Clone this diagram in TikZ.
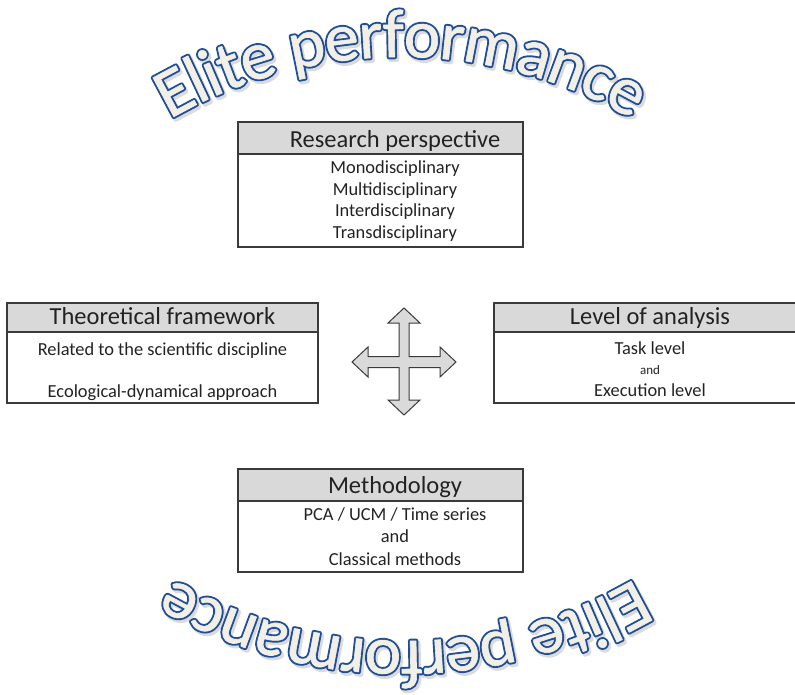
\documentclass[tikz,border=0pt]{standalone}
\usepackage{fontspec}
\setmainfont{Carlito}
\newfontfamily\artfont{Carlito}
% outlined letters (PDF text rendering mode 2): soft grey shadow, a wide blue layer, then a cream layer on top
\newcommand\artshadow{\special{pdf:literal direct 2 Tr 5 w 1 j 0.86 0.86 0.86 RG 0.86 0.86 0.86 rg}}
\newcommand\artoutline{\special{pdf:literal direct 2 Tr 4.4 w 1 j 0.122 0.306 0.588 RG 0.122 0.306 0.588 rg}}
\newcommand\artinner{\special{pdf:literal direct 2 Tr 0.6 w 1 j 0.945 0.937 0.902 RG 0.945 0.937 0.902 rg}}
\newcommand\artsize{\artfont\fontsize{69}{73}\selectfont}
\usetikzlibrary{decorations.text}
\definecolor{hdrgray}{HTML}{D9D9D9}
\definecolor{boxline}{HTML}{3A3A3A}
\definecolor{artfill}{HTML}{F1EFE6}
\definecolor{arrowfill}{HTML}{DADADA}
\definecolor{txt}{HTML}{222222}
\begin{document}
\begin{tikzpicture}[x=1pt,y=1pt,
  boxrect/.style={draw=boxline, line width=1.2pt, inner sep=0pt, outer sep=0pt, anchor=north west},
  hdrrect/.style={boxrect, fill=hdrgray},
  hdrtext/.style={font=\fontsize{24.5}{28}\selectfont, text=txt, anchor=base, inner sep=0pt},
  bodytext/.style={font=\fontsize{18.4}{22}\selectfont, text=txt, anchor=base, inner sep=0pt},
  smalltext/.style={font=\fontsize{13}{15}\selectfont, text=txt, anchor=base, inner sep=0pt},
  artpath/.style={decorate, decoration={text along path, text align=center, raise=-18pt,
      text={|\artsize#1|Elite performance}, text color=artfill}},
  crossarrow/.style={fill=arrowfill, draw=boxline, line width=1pt, line join=miter}
]
\useasboundingbox (0,0) rectangle (795,-695);
\clip (0,0) rectangle (795,-695);

% ---- WordArt, top
\path[artpath=\artshadow, shift={(2,-2.5)}] (401,-517) ++(128:478) arc[start angle=128, end angle=52, radius=478];
\path[artpath=\artoutline] (401,-517) ++(128:478) arc[start angle=128, end angle=52, radius=478];
\path[artpath=\artinner] (401,-517) ++(128:478) arc[start angle=128, end angle=52, radius=478];

% ---- WordArt, bottom (turned upside down)
\path[artpath=\artshadow, shift={(2,-2.5)}] (404,-181) ++(308:478) arc[start angle=308, end angle=232, radius=478];
\path[artpath=\artoutline] (404,-181) ++(308:478) arc[start angle=308, end angle=232, radius=478];
\path[artpath=\artinner] (404,-181) ++(308:478) arc[start angle=308, end angle=232, radius=478];

% ---- Research perspective
\node[hdrrect, minimum width=285pt, minimum height=32pt] (rphead) at (238,-122) {};
\node[boxrect, minimum width=285pt, minimum height=93pt] (rpbody) at (238,-154) {};
\node[hdrtext] (rptitle) at (395,-148) {Research perspective};
\node[bodytext] (rp1) at (395,-174) {Monodisciplinary};
\node[bodytext] (rp2) at (395,-195.5) {Multidisciplinary};
\node[bodytext] (rp3) at (395,-217) {Interdisciplinary};
\node[bodytext] (rp4) at (395,-238.5) {Transdisciplinary};

% ---- Theoretical framework
\node[hdrrect, minimum width=311pt, minimum height=29pt] (tfhead) at (7,-303) {};
\node[boxrect, minimum width=311pt, minimum height=71pt] (tfbody) at (7,-332) {};
\node[hdrtext] (tftitle) at (162.5,-324) {Theoretical framework};
\node[bodytext] (tf1) at (162.5,-355) {Related to the scientific discipline};
\node[bodytext] (tf2) at (162.5,-397) {Ecological-dynamical approach};

% ---- Level of analysis
\node[hdrrect, minimum width=312pt, minimum height=29pt] (lahead) at (494,-303) {};
\node[boxrect, minimum width=312pt, minimum height=71pt] (labody) at (494,-332) {};
\node[hdrtext] (latitle) at (650,-324) {Level of analysis};
\node[bodytext] (la1) at (650,-354) {Task level};
\node[smalltext] (la2) at (650,-374) {and};
\node[bodytext] (la3) at (650,-396) {Execution level};

% ---- Methodology
\node[hdrrect, minimum width=285pt, minimum height=32pt] (mthead) at (238,-469) {};
\node[boxrect, minimum width=285pt, minimum height=71pt] (mtbody) at (238,-501) {};
\node[hdrtext] (mttitle) at (395,-493) {Methodology};
\node[bodytext] (mt1) at (395,-520) {PCA / UCM / Time series};
\node[bodytext] (mt2) at (395,-542) {and};
\node[bodytext] (mt3) at (395,-565) {Classical methods};

% ---- four-way arrow
\path[crossarrow]
  (404,-308) -- (420,-323) -- (409,-323) -- (409,-356.5) -- (440,-356.5) -- (440,-347)
  -- (456,-362) -- (440,-377) -- (440,-367.5) -- (409,-367.5) -- (409,-400) -- (420,-400)
  -- (404,-415) -- (388,-400) -- (399,-400) -- (399,-367.5) -- (368,-367.5) -- (368,-377)
  -- (352,-362) -- (368,-347) -- (368,-356.5) -- (399,-356.5) -- (399,-323) -- (388,-323) -- cycle;
\end{tikzpicture}
\end{document}
